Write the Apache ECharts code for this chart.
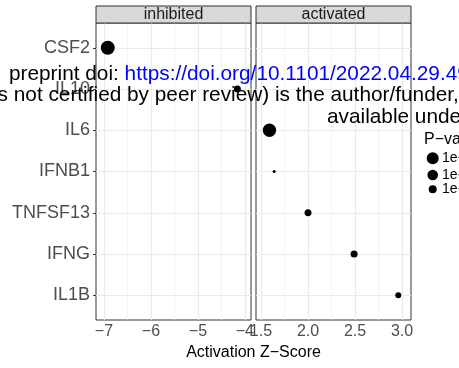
<!DOCTYPE html>
<html>
<head>
<meta charset="utf-8">
<script src="https://cdn.jsdelivr.net/npm/echarts@6/dist/echarts.min.js"></script>
<style>
  html, body { margin: 0; padding: 0; background: #fff; }
  #chart { width: 459px; height: 368px; }
</style>
</head>
<body>
<div id="chart"></div>
<script>
// upstream regulators, top to bottom
const genes = ['CSF2', 'IL10', 'IL6', 'IFNB1', 'TNFSF13', 'IFNG', 'IL1B'];
const zScores = [-6.92, -4.16, 1.59, 1.64, 2.0, 2.49, 2.96];
const pValues = [5.6e-13, 8.7e-4, 8.9e-12, 0.27, 8.7e-4, 7e-4, 5.6e-3];

const inhibitedTicks = [-7, -6, -5, -4];
const activatedTicks = [1.5, 2.0, 2.5, 3.0];
const legendBreaks = [1e-9, 1e-7, 1e-4];
const legendLabels = ['1e\u221209', '1e\u221207', '1e\u221204'];

const FONT = '"Liberation Sans", Arial, Helvetica, sans-serif';
const sizeOf = (p) => 4 * Math.sqrt(-Math.log10(p));

const chart = echarts.init(document.getElementById('chart'));

const inhData = [];
const actData = [];
genes.forEach((g, i) => {
    const row = [zScores[i], i, pValues[i]];
    if (zScores[i] < 0) inhData.push(row);
    else actData.push(row);
});

const mids = (t) => t.slice(1).map((v, i) => (v + t[i]) / 2);
const rows = genes.map((g, i) => i);

function gridLines(ticks) {
    const major = { color: '#EBEBEB', width: 1.2, type: 'solid' };
    const minor = { color: '#EBEBEB', width: 0.6, type: 'solid' };
    return [].concat(
        mids(ticks).map((v) => ({ xAxis: v, lineStyle: minor })),
        ticks.map((v) => ({ xAxis: v, lineStyle: major })),
        rows.map((v) => ({ yAxis: v, lineStyle: major }))
    );
}

function gridSeries(idx, ticks) {
    return {
        type: 'scatter',
        xAxisIndex: idx,
        yAxisIndex: idx,
        data: [],
        z: 1,
        silent: true,
        markLine: {
            z: 1,
            silent: true,
            symbol: 'none',
            animation: false,
            label: { show: false },
            data: gridLines(ticks),
        },
    };
}

const xAxisBase = {
    type: 'value',
    axisLine: { show: false },
    splitLine: { show: false },
    axisTick: { show: true, length: 3, lineStyle: { color: '#333333', width: 1 } },
    axisLabel: { color: '#4D4D4D', fontSize: 16, fontFamily: FONT, margin: 4 },
};

const minus = (v) => (v < 0 ? '\u2212' + Math.abs(v) : String(v));

const option = {
    animation: false,
    grid: [
        { left: 96, top: 23, width: 155, height: 297, show: true, borderColor: '#333333', borderWidth: 1 },
        { left: 256, top: 23, width: 155, height: 297, show: true, borderColor: '#333333', borderWidth: 1 },
    ],
    xAxis: [
        {
            ...xAxisBase,
            gridIndex: 0,
            min: -7.17,
            max: -3.87,
            axisTick: { ...xAxisBase.axisTick, customValues: inhibitedTicks },
            axisLabel: { ...xAxisBase.axisLabel, customValues: inhibitedTicks, formatter: minus },
        },
        {
            ...xAxisBase,
            gridIndex: 1,
            min: 1.447,
            max: 3.095,
            axisTick: { ...xAxisBase.axisTick, customValues: activatedTicks },
            axisLabel: { ...xAxisBase.axisLabel, customValues: activatedTicks, formatter: (v) => v.toFixed(1) },
        },
    ],
    yAxis: [
        {
            type: 'value',
            gridIndex: 0,
            min: -0.6,
            max: 6.6,
            inverse: true,
            axisLine: { show: false },
            splitLine: { show: false },
            axisTick: { show: true, length: 3, customValues: rows, lineStyle: { color: '#333333', width: 1 } },
            axisLabel: {
                customValues: rows,
                formatter: (v) => genes[Math.round(v)],
                color: '#4D4D4D',
                fontSize: 18,
                fontFamily: FONT,
                margin: 6,
            },
        },
        {
            type: 'value',
            gridIndex: 1,
            min: -0.6,
            max: 6.6,
            inverse: true,
            axisLine: { show: false },
            splitLine: { show: false },
            axisTick: { show: false },
            axisLabel: { show: false },
        },
    ],
    series: [
        gridSeries(0, inhibitedTicks),
        gridSeries(1, activatedTicks),
        {
            type: 'scatter',
            xAxisIndex: 0,
            yAxisIndex: 0,
            data: inhData,
            z: 8,
            symbolSize: (v) => sizeOf(v[2]),
            itemStyle: { color: '#000000', opacity: 1 },
        },
        {
            type: 'scatter',
            xAxisIndex: 1,
            yAxisIndex: 1,
            data: actData,
            z: 8,
            symbolSize: (v) => sizeOf(v[2]),
            itemStyle: { color: '#000000', opacity: 1 },
        },
    ],
    graphic: [],
};

// facet strips
const strips = [
    { x: 96, label: 'inhibited' },
    { x: 256, label: 'activated' },
];
strips.forEach((s) => {
    option.graphic.push({
        type: 'rect',
        shape: { x: s.x, y: 6, width: 155, height: 17 },
        style: { fill: '#D9D9D9', stroke: '#333333', lineWidth: 1 },
        z: 10,
    });
    option.graphic.push({
        type: 'text',
        x: s.x + 77.5,
        y: 15,
        style: { text: s.label, font: '16px ' + FONT, fill: '#1A1A1A', align: 'center', verticalAlign: 'middle' },
        z: 11,
    });
});

// axis title
option.graphic.push({
    type: 'text',
    x: 253.5,
    y: 353,
    style: { text: 'Activation Z\u2212Score', font: '16px ' + FONT, fill: '#000000', align: 'center', verticalAlign: 'middle' },
    z: 10,
});

// size legend
option.graphic.push({
    type: 'text',
    x: 424,
    y: 140,
    style: { text: 'P\u2212value', font: '16px ' + FONT, fill: '#000000', align: 'left', verticalAlign: 'middle' },
    z: 10,
});
const legendY = [158.3, 175, 189.3];
legendBreaks.forEach((p, i) => {
    option.graphic.push({
        type: 'circle',
        shape: { cx: 432.7, cy: legendY[i], r: sizeOf(p) / 2 },
        style: { fill: '#000000' },
        z: 10,
    });
    option.graphic.push({
        type: 'text',
        x: 442,
        y: legendY[i],
        style: { text: legendLabels[i], font: '14px ' + FONT, fill: '#000000', align: 'left', verticalAlign: 'middle' },
        z: 10,
    });
});

// preprint watermark overlaid on the figure
const WM = '20.8px ' + FONT;
option.graphic.push({
    type: 'text',
    x: 9,
    y: 74,
    style: {
        text: '{a|preprint doi: }{b|https://doi.org/10.1101/2022.04.29.490104}',
        verticalAlign: 'middle',
        rich: {
            a: { font: WM, fill: '#000000' },
            b: { font: WM, fill: '#0000FF' },
        },
    },
    z: 20,
});
option.graphic.push({
    type: 'text',
    x: -29,
    y: 95,
    style: {
        text: 'was not certified by peer review) is the author/funder, who has granted',
        font: WM,
        fill: '#000000',
        verticalAlign: 'middle',
    },
    z: 20,
});
option.graphic.push({
    type: 'text',
    x: 327,
    y: 117,
    style: {
        text: 'available under aCC-BY-NC-ND 4.0 International license.',
        font: WM,
        fill: '#000000',
        verticalAlign: 'middle',
    },
    z: 20,
});

chart.setOption(option);
</script>
</body>
</html>
